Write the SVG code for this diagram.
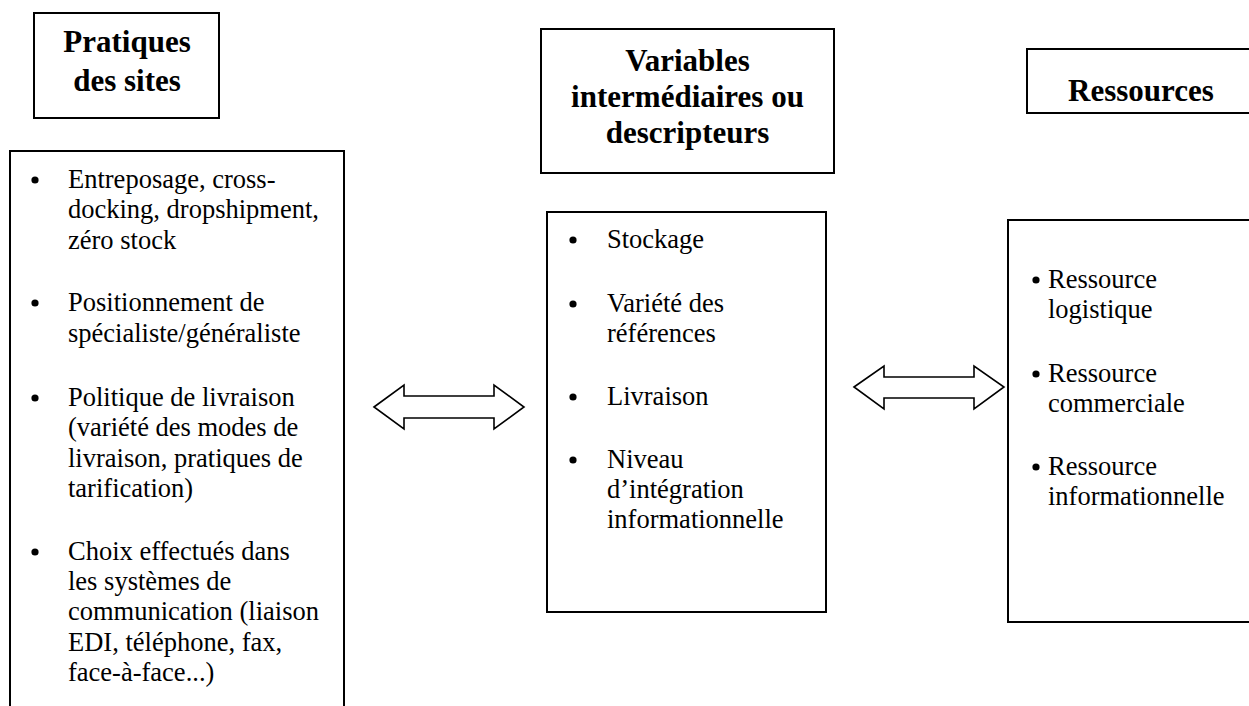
<svg xmlns="http://www.w3.org/2000/svg" width="1249" height="706" viewBox="0 0 1249 706">
<style>
.box{fill:#fff;stroke:#000;stroke-width:2}
.arrow{fill:#fff;stroke:#000;stroke-width:1.6;stroke-linejoin:miter}
.h{font-family:"Liberation Serif","Times New Roman",serif;font-weight:bold;font-size:31px;fill:#000}
.t{font-family:"Liberation Serif","Times New Roman",serif;font-size:26.5px;fill:#000}
.b{fill:#000}
</style>
<rect width="1249" height="706" fill="#fff"/>
<g id="hdr-pratiques">
<rect class="box" x="34" y="13" width="185" height="105"/>
<text class="h" x="127" y="52" text-anchor="middle">Pratiques</text>
<text class="h" x="127" y="91" text-anchor="middle">des sites</text>
</g>
<g id="body-pratiques">
<path class="box" d="M10,707 V151 H344 V707"/>
<circle class="b" cx="35" cy="180" r="3.6"/>
<text class="t" x="68" y="188">Entreposage, cross-</text>
<text class="t" x="68" y="218">docking, dropshipment,</text>
<text class="t" x="68" y="249">zéro stock</text>
<circle class="b" cx="35" cy="303" r="3.6"/>
<text class="t" x="68" y="311">Positionnement de</text>
<text class="t" x="68" y="342">spécialiste/généraliste</text>
<circle class="b" cx="35" cy="398" r="3.6"/>
<text class="t" x="68" y="406">Politique de livraison</text>
<text class="t" x="68" y="436">(variété des modes de</text>
<text class="t" x="68" y="467">livraison, pratiques de</text>
<text class="t" x="68" y="497">tarification)</text>
<circle class="b" cx="35" cy="552" r="3.6"/>
<text class="t" x="68" y="560">Choix effectués dans</text>
<text class="t" x="68" y="590">les systèmes de</text>
<text class="t" x="68" y="620">communication (liaison</text>
<text class="t" x="68" y="651">EDI, téléphone, fax,</text>
<text class="t" x="68" y="681">face-à-face...)</text>
</g>
<g id="hdr-variables">
<rect class="box" x="541" y="29" width="293" height="144"/>
<text class="h" x="687.5" y="71" text-anchor="middle">Variables</text>
<text class="h" x="687.5" y="107" text-anchor="middle">intermédiaires ou</text>
<text class="h" x="687.5" y="143" text-anchor="middle">descripteurs</text>
</g>
<g id="body-variables">
<rect class="box" x="547" y="212" width="279" height="400"/>
<circle class="b" cx="573" cy="240" r="3.6"/>
<text class="t" x="607" y="248">Stockage</text>
<circle class="b" cx="573" cy="304" r="3.6"/>
<text class="t" x="607" y="312">Variété des</text>
<text class="t" x="607" y="342">références</text>
<circle class="b" cx="573" cy="397" r="3.6"/>
<text class="t" x="607" y="405">Livraison</text>
<circle class="b" cx="573" cy="460" r="3.6"/>
<text class="t" x="607" y="468">Niveau</text>
<text class="t" x="607" y="498">d’intégration</text>
<text class="t" x="607" y="528">informationnelle</text>
</g>
<g id="hdr-ressources">
<path class="box" d="M1252,49 H1027 V113 H1252"/>
<text class="h" x="1068" y="101">Ressources</text>
</g>
<g id="body-ressources">
<path class="box" d="M1252,220 H1008 V622 H1252"/>
<circle class="b" cx="1036" cy="280" r="3.6"/>
<text class="t" x="1048" y="288">Ressource</text>
<text class="t" x="1048" y="318">logistique</text>
<circle class="b" cx="1036" cy="374" r="3.6"/>
<text class="t" x="1048" y="382">Ressource</text>
<text class="t" x="1048" y="412">commerciale</text>
<circle class="b" cx="1036" cy="467" r="3.6"/>
<text class="t" x="1048" y="475">Ressource</text>
<text class="t" x="1048" y="505">informationnelle</text>
</g>
<g id="connectors">
<polygon class="arrow" points="374,407 404,385 404,396 494,396 494,385 524,407 494,429 494,418 404,418 404,429"/>
<polygon class="arrow" points="854,387 884,366 884,377 974,377 974,366 1004,387 974,409 974,398 884,398 884,409"/>
</g>
</svg>
